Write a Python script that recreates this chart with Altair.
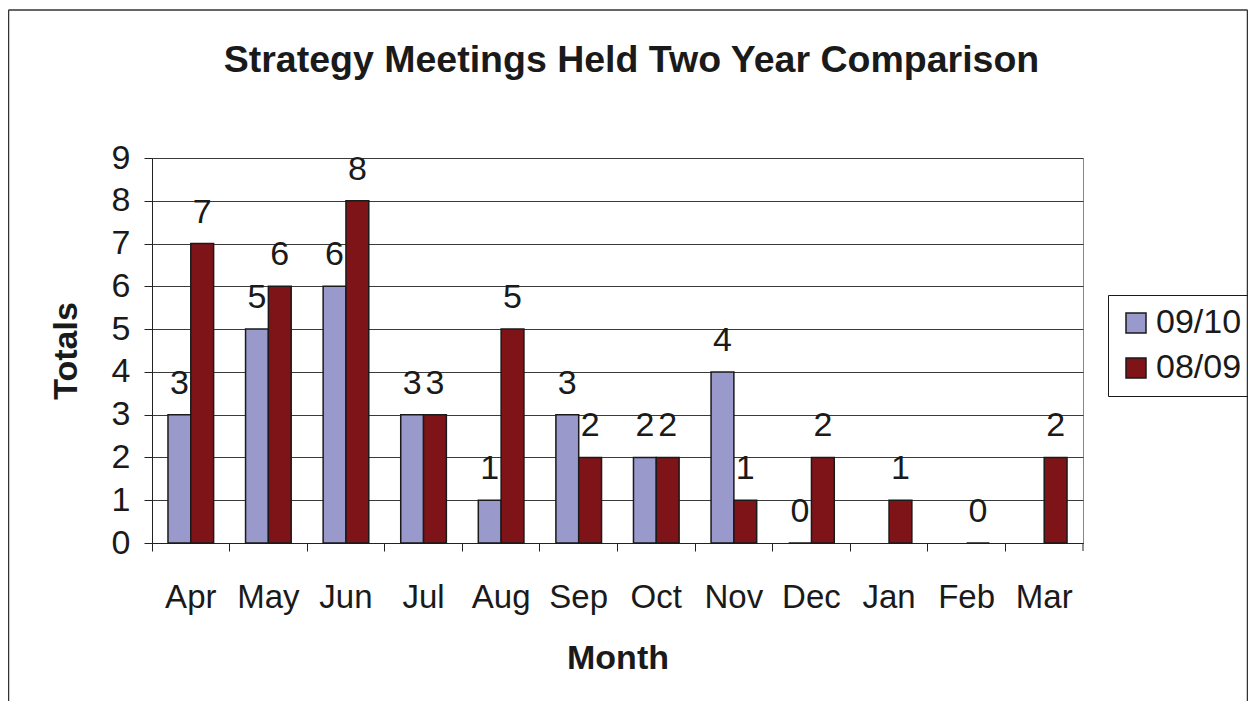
import altair as alt
import pandas as pd

months = ["Apr", "May", "Jun", "Jul", "Aug", "Sep", "Oct", "Nov", "Dec", "Jan", "Feb", "Mar"]
series_names = ["09/10", "08/09"]
values_0910 = [3, 5, 6, 3, 1, 3, 2, 4, 0, None, None, None]
values_0809 = [7, 6, 8, 3, 5, 2, 2, 1, 2, 1, 0, 2]
y_ticks = [0, 1, 2, 3, 4, 5, 6, 7, 8, 9]
colors = ["#9999CC", "#7E1418"]

rows = []
for name, vals in zip(series_names, [values_0910, values_0809]):
    for m, v in zip(months, vals):
        if v is not None:
            rows.append({"month": m, "year": name, "value": v})
df = pd.DataFrame(rows)

W, H = 931, 385
FONT = "Liberation Sans"

x_enc = alt.X(
    "month:N",
    sort=months,
    scale=alt.Scale(paddingInner=0, paddingOuter=0),
    axis=alt.Axis(
        title="Month",
        bandPosition=0,
        labelAngle=0,
        tickSize=8,
        tickColor="#222",
        domainColor="#222",
        labelPadding=30,
        labelFontSize=33,
        titleFontSize=34,
        titleFontWeight="bold",
        titlePadding=27,
        grid=False,
    ),
)
xo_enc = alt.XOffset(
    "year:N", sort=series_names, scale=alt.Scale(paddingInner=0, paddingOuter=0.7)
)
y_enc = alt.Y(
    "value:Q",
    scale=alt.Scale(domain=[0, 9], nice=False),
    axis=alt.Axis(
        title="Totals",
        values=y_ticks,
        format="d",
        tickSize=8,
        tickColor="#222",
        domainColor="#222",
        gridColor="#3a3a3a",
        gridWidth=1,
        labelPadding=14,
        labelFontSize=34,
        titleFontSize=34,
        titleFontWeight="bold",
        titlePadding=28,
    ),
)

base = alt.Chart(df)

bars = base.mark_bar(stroke="#1a1a1a", strokeWidth=1.5).encode(
    x=x_enc,
    xOffset=xo_enc,
    y=y_enc,
    color=alt.Color(
        "year:N",
        sort=series_names,
        scale=alt.Scale(domain=series_names, range=colors),
        legend=alt.Legend(
            title=None,
            orient="none",
            legendX=956,
            legendY=137,
            labelFontSize=34,
            symbolType="square",
            symbolSize=400,
            symbolStrokeColor="#1a1a1a",
            symbolStrokeWidth=1.5,
            strokeColor="#1a1a1a",
            padding=11,
            rowPadding=11,
            labelOffset=3,
        ),
    ),
)

labels = base.mark_text(
    baseline="alphabetic", dy=-21, fontSize=34, color="#1a1a1a", font=FONT
).encode(x=x_enc, xOffset=xo_enc, y=y_enc, text=alt.Text("value:Q", format="d"))

one = pd.DataFrame({"k": [0]})
end_tick = alt.Chart(one).mark_rule(color="#222", strokeWidth=1).encode(
    x=alt.value(W), y=alt.value(H), y2=alt.value(H + 8)
)
border_left = alt.Chart(one).mark_rule(color="#333", strokeWidth=1.5).encode(
    x=alt.value(-143.5), y=alt.value(-148), y2=alt.value(700)
)
border_top = alt.Chart(one).mark_rule(color="#333", strokeWidth=1.5).encode(
    x=alt.value(-143.5), x2=alt.value(1095.5), y=alt.value(-148)
)
border_right = alt.Chart(one).mark_rule(color="#333", strokeWidth=1.5).encode(
    x=alt.value(1095.5), y=alt.value(-148), y2=alt.value(700)
)

chart = (
    alt.layer(bars, labels, end_tick, border_left, border_top, border_right)
    .properties(
        width=W,
        height=H,
        autosize=alt.AutoSizeParams(type="none"),
        padding={"left": 144, "top": 150, "right": 165, "bottom": 158},
        title=alt.TitleParams(
            "Strategy Meetings Held Two Year Comparison",
            fontSize=37.5,
            fontWeight="bold",
            font=FONT,
            color="#1a1a1a",
            anchor="middle",
            frame="group",
            baseline="alphabetic",
            offset=-100,
            dx=14,
        ),
    )
    .configure(font=FONT, background="white")
    .configure_view(stroke="#888", strokeWidth=1)
    .configure_axis(labelColor="#1a1a1a", titleColor="#1a1a1a", labelFont=FONT, titleFont=FONT)
    .configure_legend(labelFont=FONT, labelColor="#1a1a1a")
)

chart.save("out.html", embed_options={"renderer": "svg", "actions": False})
